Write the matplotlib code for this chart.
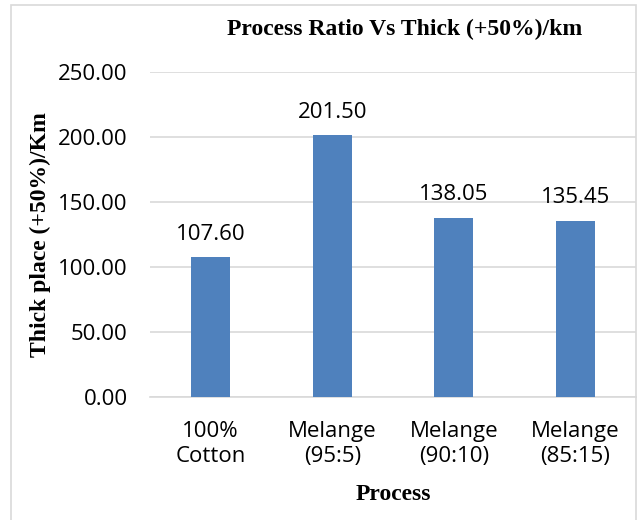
import matplotlib.pyplot as plt
from matplotlib.patches import Rectangle

categories = ['100%\nCotton', 'Melange\n(95:5)', 'Melange\n(90:10)', 'Melange\n(85:15)']
values = [107.60, 201.50, 138.05, 135.45]
yticks = [0, 50, 100, 150, 200, 250]

fig = plt.figure(figsize=(6.37, 5.2), dpi=100)
ax = fig.add_axes([150 / 637, 123 / 520, 486 / 637, 325 / 520])

x = range(len(categories))
bars = ax.bar(x, values, width=0.32, color='#4F81BD', zorder=3)

for b, v in zip(bars, values):
    ax.annotate(f'{v:.2f}', (b.get_x() + b.get_width() / 2, v),
                xytext=(0, 9), textcoords='offset points',
                ha='center', va='bottom', fontsize=16, family='Open Sans')

ax.set_xlim(-0.5, len(categories) - 0.5)
ax.set_ylim(0, 250)
ax.set_yticks(yticks)
ax.set_yticklabels([f'{t:.2f}' for t in yticks], fontsize=16, family='Open Sans')
ax.set_xticks(list(x))
ax.set_xticklabels(categories, fontsize=16, family='Open Sans', linespacing=1.25)
ax.tick_params(length=0)
ax.tick_params(axis='y', pad=16)
ax.tick_params(axis='x', pad=17)
ax.grid(axis='y', color='#D9D9D9', linewidth=1.2, zorder=0)
for s in ['top', 'right', 'left']:
    ax.spines[s].set_visible(False)
ax.spines['bottom'].set_color('#D9D9D9')
ax.spines['bottom'].set_linewidth(1.2)

ax.set_ylabel('Thick place (+50%)/Km', fontsize=17, fontweight='bold',
              family='Liberation Serif', va='center')
ax.yaxis.set_label_coords((40 - 150) / 486, 0.5)
ax.set_xlabel('Process', fontsize=17, fontweight='bold',
              family='Liberation Serif', va='center')
ax.xaxis.set_label_coords(0.5, (397 - 494) / 325)
fig.text(405 / 637, 1 - 29 / 520, 'Process Ratio Vs Thick (+50%)/km',
         ha='center', va='center', fontsize=17, fontweight='bold',
         family='Liberation Serif')

fig.patches.append(Rectangle((11 / 637, -0.01), 625 / 637, 1 - 5 / 520 + 0.01,
                             transform=fig.transFigure, fill=False,
                             edgecolor='#D9D9D9', linewidth=1.2))

fig.savefig('out.png')
